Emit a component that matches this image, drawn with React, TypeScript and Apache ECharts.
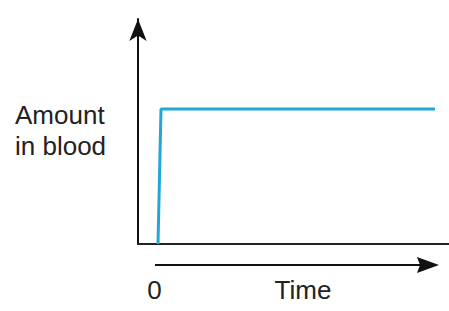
import React, { useEffect, useRef } from "react";
import * as echarts from "echarts";

const timeValues = [0, 0.15, 13.85];
const amountValues = [0, 60, 60];
const yLabelLines = ["Amount", "in blood"];
const xOriginLabel = "0";
const xAxisTitle = "Time";

export default function App() {
  const ref = useRef<HTMLDivElement>(null);
  useEffect(() => {
    if (!ref.current) return;
    const chart = echarts.init(ref.current, undefined, { renderer: "svg" });
    const font = "Liberation Sans, Arial, sans-serif";
    chart.setOption({
      animation: false,
      backgroundColor: "#ffffff",
      grid: { left: 138, right: 0, top: 19, bottom: 67 },
      xAxis: {
        type: "value",
        min: -1,
        max: 14.55,
        axisLine: { show: true, onZero: false, lineStyle: { color: "#222", width: 2 } },
        axisTick: { show: false },
        axisLabel: { show: false },
        splitLine: { show: false },
      },
      yAxis: {
        type: "value",
        min: 0,
        max: 100,
        axisLine: {
          show: true,
          onZero: false,
          symbol: ["none", "arrow"],
          symbolSize: [13, 22],
          lineStyle: { color: "#111", width: 2 },
        },
        axisTick: { show: false },
        axisLabel: { show: false },
        splitLine: { show: false },
      },
      series: [
        {
          type: "line",
          data: timeValues.map((t, i) => [t, amountValues[i]]),
          showSymbol: false,
          lineStyle: { color: "#21a6d6", width: 3 },
        },
      ],
      graphic: [
        {
          type: "line",
          shape: { x1: 155, y1: 265, x2: 424, y2: 265 },
          style: { stroke: "#111", lineWidth: 2 },
        },
        {
          type: "polygon",
          shape: { points: [[417, 257], [439, 265], [417, 273], [420, 265]] },
          style: { fill: "#111" },
        },
        ...yLabelLines.map((s, i) => ({
          type: "text",
          x: 15,
          y: 115 + i * 31,
          style: {
            text: s,
            fontSize: 26,
            fontFamily: font,
            fill: "#222",
            textAlign: "left",
            textVerticalAlign: "middle",
          },
        })),
        {
          type: "text",
          x: 154.5,
          y: 290,
          style: {
            text: xOriginLabel,
            fontSize: 26,
            fontFamily: font,
            fill: "#222",
            textAlign: "center",
            textVerticalAlign: "middle",
          },
        },
        {
          type: "text",
          x: 303,
          y: 290,
          style: {
            text: xAxisTitle,
            fontSize: 26,
            fontFamily: font,
            fill: "#222",
            textAlign: "center",
            textVerticalAlign: "middle",
          },
        },
      ],
    });
    return () => chart.dispose();
  }, []);
  return <div ref={ref} style={{ width: 449, height: 311, position: "absolute", left: 0, top: 0 }} />;
}
